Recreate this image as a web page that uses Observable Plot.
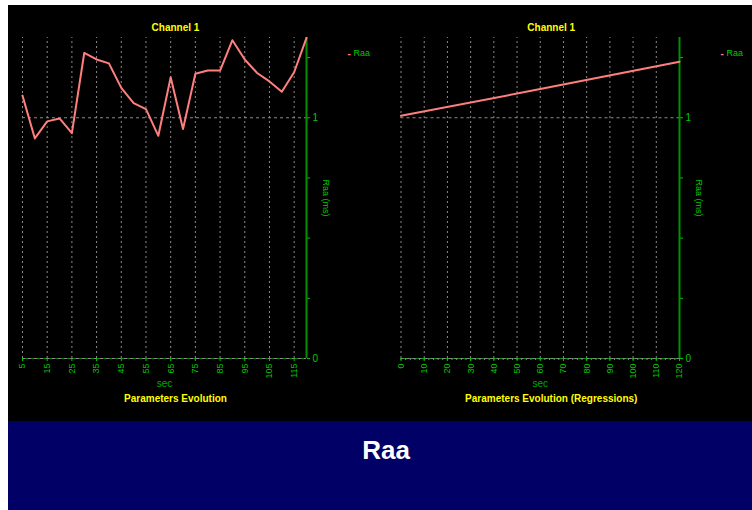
<!DOCTYPE html>
<html><head><meta charset="utf-8">
<script src="https://cdn.jsdelivr.net/npm/d3@7"></script>
<script src="https://cdn.jsdelivr.net/npm/@observablehq/plot@0.6"></script>
<style>
html,body{margin:0;padding:0;background:#fff;}
body{width:752px;height:510px;position:relative;overflow:hidden;font-family:Arial,"Liberation Sans",sans-serif;}
#panel{position:absolute;left:8px;top:5px;width:744px;height:416px;background:#000;}
#left{position:absolute;left:0;top:0;}
#right{position:absolute;left:368px;top:0;}
#footer{position:absolute;left:8px;top:421px;width:744px;height:89px;background:#000066;}
#footer span{position:absolute;left:378px;top:16px;transform:translateX(-50%);color:#fff;font-weight:bold;font-size:26px;line-height:26px;font-family:Arial,"Liberation Sans",sans-serif;}
svg{overflow:visible;}
</style>
</head><body>
<div id="panel"><div id="left"></div><div id="right"></div></div>
<div id="footer"><span>Raa</span></div>
<script>
// ---- data ----
const secLeft = [5,10,15,20,25,30,35,40,45,50,55,60,65,70,75,80,85,90,95,100,105,110,115,120];
const raaLeft = [1.092,0.914,0.985,0.997,0.936,1.269,1.242,1.226,1.124,1.061,1.036,0.925,1.168,0.953,1.183,1.196,1.196,1.322,1.242,1.186,1.151,1.108,1.189,1.332];
const secRight = [0, 60, 120];
const raaRight = [1.008, 1.119, 1.233];
const xTicksLeft = [5,15,25,35,45,55,65,75,85,95,105,115];
const xTicksRight = [0,10,20,30,40,50,60,70,80,90,100,110,120];
const yTicks = [0,0.25,0.5,0.75,1,1.25];
const yLabelled = [0,1];
const seriesName = "Raa";
const yLabel = "Raa (ms)";
const xLabel = "sec";
const titleTop = "Channel 1";
const titleLeft = "Parameters Evolution";
const titleRight = "Parameters Evolution (Regressions)";
const yMax = 4/3;

const GREEN = "#00c800", AXIS = "#009000", GRID = "#8a8a8a", LINE = "#ff7f7f", YELLOW = "#ffff00";

function chart({width, ml, mr, xDomain, xTicks, gridX, minor, t, v, subtitle}) {
  const data = t.map((d, i) => ({t: d, v: v[i]}));
  const txt = (s, o) => Plot.text([s], Object.assign({lineAnchor: "middle", fontFamily: "Arial, Liberation Sans, sans-serif"}, o));
  return Plot.plot({
    width, height: 416,
    marginLeft: ml, marginRight: mr, marginTop: 32, marginBottom: 63,
    x: {domain: xDomain},
    y: {domain: [0, yMax]},
    style: {background: "transparent", color: GREEN, fontFamily: "Arial, Liberation Sans, sans-serif", fontSize: "9px", overflow: "visible"},
    marks: [
      Plot.ruleX(gridX, {y1: 0, y2: yMax, stroke: GRID, strokeDasharray: "2,3"}),
      Plot.ruleY([0], {stroke: AXIS, strokeWidth: 1}),
      Plot.ruleY(yLabelled, {stroke: GRID, strokeDasharray: "3,3"}),
      minor ? Plot.axisX({ticks: minor, tickSize: 2, tickFormat: () => "", stroke: GRID, label: null}) : null,
      Plot.axisX({ticks: xTicks, tickSize: 3, tickPadding: 2, tickRotate: -90, color: GREEN, label: null, fontSize: 9}),
      Plot.axisY({anchor: "right", ticks: yTicks, tickSize: 3, tickPadding: 3, tickFormat: d => yLabelled.includes(d) ? String(d) : "", color: GREEN, label: null, fontSize: 10}),
      Plot.ruleX([xDomain[1]], {stroke: AXIS, strokeWidth: 2}),
      Plot.line(data, {x: "t", y: "v", stroke: LINE, strokeWidth: 2}),
      txt("-", {frameAnchor: "top-right", dx: 41, dy: 16, textAnchor: "start", fill: LINE, fontWeight: "bold", fontSize: 10}),
      txt(seriesName, {frameAnchor: "top-right", dx: 47, dy: 16, textAnchor: "start", fill: GREEN, fontSize: 9}),
      txt(yLabel, {frameAnchor: "right", dx: 19, textAnchor: "middle", rotate: 90, fill: GREEN, fontSize: 9}),
      txt(titleTop, {frameAnchor: "top", dx: 11, dy: -10, textAnchor: "middle", fill: YELLOW, fontWeight: "bold", fontSize: 10}),
      txt(xLabel, {frameAnchor: "bottom", dy: 25, textAnchor: "middle", fill: "#00a800", fontSize: 10}),
      txt(subtitle, {frameAnchor: "bottom", dx: 11, dy: 40, textAnchor: "middle", fill: YELLOW, fontWeight: "bold", fontSize: 10})
    ]
  });
}

document.getElementById("left").append(chart({
  width: 368, ml: 14, mr: 70, xDomain: [5, 120], xTicks: xTicksLeft, gridX: xTicksLeft,
  minor: null, t: secLeft, v: raaLeft, subtitle: titleLeft
}));
document.getElementById("right").append(chart({
  width: 376, ml: 24.5, mr: 73, xDomain: [0, 120], xTicks: xTicksRight, gridX: xTicksRight.slice(0, -1),
  minor: d3.range(0, 121, 2), t: secRight, v: raaRight, subtitle: titleRight
}));
</script>
</body></html>
